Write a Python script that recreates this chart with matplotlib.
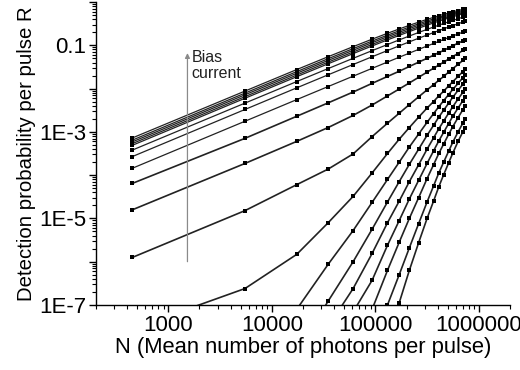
import math
import matplotlib
matplotlib.use("Agg")
import matplotlib.pyplot as plt
from matplotlib.ticker import LogLocator, FixedLocator, FuncFormatter, NullFormatter

plt.rcParams['font.family'] = ['Liberation Sans', 'DejaVu Sans']

# Mean number of photons per pulse (shared grid)
N = [450, 5500, 17400, 35000, 61000, 93000, 131000, 170000, 213000, 262000,
     316000, 365000, 410000, 457000, 510000, 560000, 630000, 700000, 740000]

# log10 of detection probability R for each bias current (None = not measured)
c1 = [-3.14, -2.058, -1.561, -1.264, -1.032, -0.859, -0.723, -0.623, -0.539, -0.466,
      -0.401, -0.355, -0.318, -0.285, -0.253, -0.228, -0.197, -0.171, -0.159]
c2 = [-3.19, -2.105, -1.608, -1.310, -1.077, -0.903, -0.766, -0.665, -0.579, -0.504,
      -0.438, -0.390, -0.352, -0.318, -0.285, -0.258, -0.225, -0.198, -0.184]
c3 = [-3.23, -2.144, -1.647, -1.349, -1.115, -0.940, -0.802, -0.700, -0.614, -0.537,
      -0.470, -0.420, -0.381, -0.346, -0.312, -0.284, -0.250, -0.222, -0.207]
c4 = [-3.27, -2.186, -1.688, -1.389, -1.155, -0.980, -0.840, -0.737, -0.650, -0.572,
      -0.504, -0.453, -0.413, -0.377, -0.342, -0.313, -0.278, -0.248, -0.232]
c5 = [-3.31, -2.224, -1.726, -1.427, -1.192, -1.016, -0.876, -0.772, -0.684, -0.605,
      -0.536, -0.484, -0.443, -0.406, -0.370, -0.340, -0.304, -0.273, -0.257]
c6 = [-3.42, -2.336, -1.838, -1.538, -1.301, -1.124, -0.982, -0.876, -0.786, -0.704,
      -0.632, -0.578, -0.536, -0.496, -0.458, -0.426, -0.386, -0.352, -0.334]
c7 = [-3.57, -2.483, -1.983, -1.682, -1.444, -1.265, -1.121, -1.013, -0.921, -0.837,
      -0.763, -0.706, -0.661, -0.620, -0.579, -0.545, -0.502, -0.465, -0.446]
c8 = [-3.84, -2.755, -2.255, -1.953, -1.714, -1.533, -1.387, -1.276, -1.181, -1.095,
      -1.017, -0.958, -0.910, -0.866, -0.822, -0.785, -0.739, -0.697, -0.676]
c9 = [-4.19, -3.15, -2.64, -2.33, -2.08, -1.88, -1.72, -1.60, -1.49, -1.39,
      -1.30, -1.23, -1.17, -1.12, -1.06, -1.01, -0.95, -0.90, -0.87]
c10 = [-4.80, -3.73, -3.22, -2.90, -2.62, -2.38, -2.17, -2.01, -1.87, -1.74,
       -1.62, -1.53, -1.46, -1.39, -1.32, -1.26, -1.19, -1.12, -1.09]
c11 = [-5.90, -4.82, -4.22, -3.86, -3.51, -3.11, -2.80, -2.57, -2.37, -2.19,
       -2.03, -1.91, -1.81, -1.72, -1.62, -1.54, -1.44, -1.35, -1.30]
s1 = [-7.55, -6.62, -5.83, -5.10, -4.49, -3.95, -3.50, -3.17, -2.90, -2.66,
      -2.45, -2.30, -2.17, -2.06, -1.94, -1.84, -1.72, -1.61, -1.55]
s2 = [None, None, -7.10, -6.06, -5.28, -4.63, -4.10, -3.70, -3.35, -3.05,
      -2.78, -2.58, -2.42, -2.28, -2.14, -2.02, -1.88, -1.75, -1.68]
s3 = [None, None, -8.10, -6.91, -6.00, -5.25, -4.62, -4.15, -3.75, -3.40,
      -3.08, -2.85, -2.66, -2.50, -2.34, -2.20, -2.04, -1.90, -1.83]
s4 = [None, None, None, -7.50, -6.62, -5.81, -5.10, -4.60, -4.15, -3.76,
      -3.40, -3.14, -2.93, -2.75, -2.57, -2.42, -2.24, -2.09, -2.01]
s5 = [None, None, None, None, -7.16, -6.43, -5.62, -5.05, -4.55, -4.12,
      -3.73, -3.44, -3.21, -3.01, -2.81, -2.64, -2.45, -2.28, -2.20]
s6 = [None, None, None, None, None, -7.10, -6.20, -5.55, -5.00, -4.52,
      -4.08, -3.76, -3.50, -3.28, -3.06, -2.88, -2.67, -2.49, -2.40]
s7 = [None, None, None, None, None, None, -7.00, -6.30, -5.68, -5.12,
      -4.62, -4.25, -3.95, -3.70, -3.45, -3.24, -3.00, -2.80, -2.70]
s8 = [None, None, None, None, None, None, -7.80, -6.95, -6.20, -5.56,
      -5.00, -4.60, -4.27, -3.99, -3.72, -3.49, -3.22, -3.00, -2.90]

curves = [c1, c2, c3, c4, c5, c6, c7, c8, c9, c10, c11, s1, s2, s3, s4, s5, s6, s7, s8]

xtick_vals = [1000, 10000, 100000, 1000000]
xtick_labels = ["1000", "10000", "100000", "1000000"]
ytick_labels = {-1: "0.1", -3: "1E-3", -5: "1E-5", -7: "1E-7"}

fig = plt.figure(figsize=(5.2, 3.7), dpi=100)
ax = fig.add_axes([0.1846, 0.1757, 0.7962, 0.8189])

for i, c in enumerate(curves):
    xs = [n for n, v in zip(N, c) if v is not None]
    ys = [10 ** v for v in c if v is not None]
    lw = 0.9 if i < 8 else 1.2
    ax.plot(xs, ys, color='#222222', lw=lw, marker='s', ms=3.5,
            mfc='black', mec='black', mew=0)

ax.set_xscale('log')
ax.set_yscale('log')
ax.set_xlim(200, 2e6)
ax.set_ylim(1e-7, 1)

for s in ['top', 'right']:
    ax.spines[s].set_visible(False)
for s in ['left', 'bottom']:
    ax.spines[s].set_linewidth(1.0)

ax.xaxis.set_major_locator(FixedLocator(xtick_vals))
ax.set_xticklabels(xtick_labels)
ax.xaxis.set_minor_locator(LogLocator(base=10, subs=range(2, 10), numticks=20))
ax.xaxis.set_minor_formatter(NullFormatter())

ax.yaxis.set_major_locator(FixedLocator([10.0 ** e for e in range(-7, 1)]))
ax.yaxis.set_major_formatter(FuncFormatter(
    lambda v, p: ytick_labels.get(int(round(math.log10(v))), "")))
ax.yaxis.set_minor_locator(LogLocator(base=10, subs=range(2, 10), numticks=20))
ax.yaxis.set_minor_formatter(NullFormatter())

ax.tick_params(which='major', direction='out', length=5, width=1.0, labelsize=16, pad=2)
ax.tick_params(which='minor', direction='out', length=3, width=0.8)

ax.set_xlabel("N (Mean number of photons per pulse)", fontsize=15.8, labelpad=1)
ax.set_ylabel("Detection probability per pulse R", fontsize=14.7, labelpad=2)

# Bias current arrow
ax.annotate("", xy=(1530, 10 ** -1.18), xytext=(1530, 10 ** -6.0),
            arrowprops=dict(arrowstyle='-|>', color='#8a8a8a', lw=0.9,
                            mutation_scale=7, shrinkA=0, shrinkB=0))
ax.text(1680, 10 ** -1.10, "Bias\ncurrent", fontsize=11.5, ha='left', va='top',
        color='#222222', linespacing=1.15)

fig.savefig("out.png", dpi=100)
